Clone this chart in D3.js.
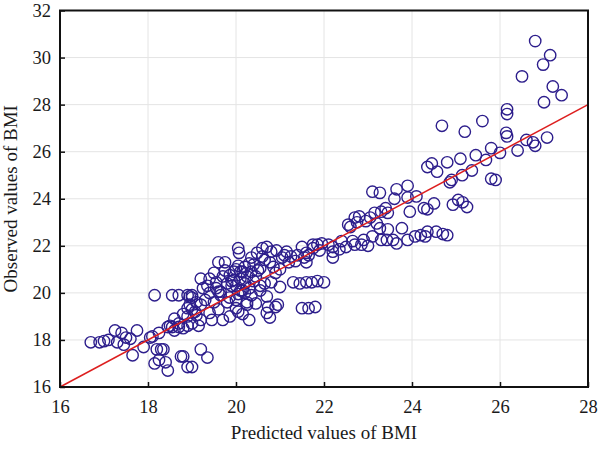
<!DOCTYPE html>
<html lang="en">
<head>
  <meta charset="UTF-8">
  <title>BMI predicted vs observed</title>
  <style>
    body { margin: 0; background: #fff; }
    text { font-family: "Liberation Serif", "DejaVu Serif", serif; fill: #1a1a1a; }
  </style>
  <script src="https://d3js.org/d3.v7.min.js"></script>
</head>
<body>
  <div id="chart"></div>
  <script>
    // predicted / observed BMI pairs
    var predicted = [
      16.7,16.9,17.0,17.1,17.25,17.3,17.4,17.45,17.5,17.6,17.75,17.65,17.9,18.05,18.1,18.15,18.25,18.2,18.3,18.25,
      18.15,18.35,18.4,18.45,18.45,18.55,18.55,18.7,18.7,18.75,18.6,18.9,18.9,19.0,18.9,19.0,18.8,19.0,19.2,19.35,18.8,
      20.05,20.07,19.6,19.75,19.5,19.4,19.2,19.25,19.0,18.95,18.9,19.07,19.2,19.4,19.45,19.6,19.7,19.86,20.05,20.15,
      20.3,20.0,19.85,19.65,19.86,19.95,20.0,20.1,20.25,20.35,20.48,20.6,20.7,20.8,20.92,20.65,20.77,20.55,20.45,20.65,
      20.8,20.55,20.7,20.73,20.9,20.95,20.7,20.77,20.35,20.15,20.25,21.15,21.2,21.35,21.5,21.6,21.75,21.85,21.0,21.05,
      21.3,21.45,21.6,21.72,21.85,22.0,21.0,21.5,21.65,21.8,
      19.9,20.0,20.1,20.2,20.15,19.95,20.3,20.1,19.8,20.2,20.35,19.7,20.05,20.25,19.8,19.5,19.3,19.6,19.4,20.4,
      18.6,18.8,19.0,18.7,19.1,18.5,19.2,18.95,19.15,18.9,
      19.55,19.75,19.9,20.05,20.2,20.4,20.55,20.6,20.85,21.1,19.35,19.65,20.0,20.3,20.5,21.25,20.9,19.1,19.55,20.45,
      22.35,22.65,22.9,23.0,21.4,
      23.1,23.27,23.65,23.9,23.6,23.9,24.1,23.95,24.27,24.5,22.8,22.6,22.75,22.95,23.05,23.15,23.3,23.45,23.4,23.2,
      23.27,23.1,23.3,23.45,23.43,23.57,23.77,23.9,23.65,24.07,24.2,24.3,24.35,24.55,24.7,24.8,22.5,22.7,22.85,22.2,
      22.2,22.1,21.95,21.75,21.65,21.6,21.55,21.9,22.2,22.55,22.7,22.4,
      24.35,24.45,24.57,24.8,24.86,24.9,25.1,25.14,25.36,25.45,25.68,25.8,26.0,26.4,25.8,25.9,24.93,25.05,25.15,25.25,24.35,
      24.68,25.2,25.6,26.16,26.16,26.14,26.16,26.6,26.75,26.8,27.07,27.0,27.4,26.8,27.14,26.98,26.5,27.2
    ];
    var observed = [
      17.9,17.9,17.95,18.0,18.4,17.9,18.3,17.8,18.1,18.05,18.4,17.35,17.7,18.1,18.15,19.9,18.3,17.6,17.6,17.15,
      17.0,17.6,17.05,16.7,18.55,18.55,19.9,19.9,18.55,17.3,18.4,19.0,19.9,19.8,16.85,16.85,18.5,18.7,17.6,17.25,17.3,
      21.9,21.7,21.3,21.3,20.85,20.6,20.6,20.2,19.9,19.85,19.35,19.2,18.85,19.15,18.85,19.3,18.85,19.0,19.2,19.1,
      18.85,19.7,19.8,20.05,20.75,20.55,21.0,20.9,20.7,21.5,21.7,21.9,21.95,21.75,21.8,21.4,21.3,21.05,20.7,20.4,
      20.45,20.1,19.85,19.4,19.4,19.5,19.15,18.95,19.9,20.1,19.6,21.75,21.3,21.35,21.95,21.7,21.9,22.05,21.0,21.5,
      20.45,20.4,20.45,20.45,20.5,20.45,20.25,19.35,19.35,19.4,
      20.5,20.3,20.6,20.4,20.9,20.9,20.2,20.1,20.4,21.1,20.9,20.7,19.95,19.5,19.6,19.6,19.7,20.05,20.0,20.5,
      18.9,19.1,19.3,18.7,19.05,18.6,19.5,19.5,18.6,18.6,
      20.2,20.95,20.3,21.15,20.0,21.2,20.3,21.55,21.1,21.6,20.3,19.9,19.35,21.25,20.95,21.55,20.85,19.6,20.45,19.55,
      21.85,22.2,22.25,22.0,21.6,
      24.3,24.25,24.4,24.55,24.0,24.05,24.1,23.45,23.6,23.8,23.25,22.8,23.0,23.05,23.2,23.4,23.45,23.4,23.6,22.95,
      22.75,22.4,22.25,22.7,22.25,22.25,22.75,22.25,22.1,22.4,22.45,22.4,22.6,22.6,22.5,22.45,21.95,22.05,22.05,21.5,
      21.95,22.05,22.1,22.05,21.6,21.3,21.5,21.8,21.75,22.9,23.2,22.2,
      25.35,25.5,25.15,25.55,24.7,24.8,25.7,25.0,25.2,25.85,25.65,26.15,25.95,26.05,24.85,24.8,23.75,23.95,23.85,23.65,23.55,
      27.1,26.85,27.3,27.8,27.6,26.8,26.65,26.5,26.4,26.25,26.6,28.1,28.4,30.7,30.1,29.7,29.2,28.77
    ];
    var xTicks = [16, 18, 20, 22, 24, 26, 28];
    var yTicks = [16, 18, 20, 22, 24, 26, 28, 30, 32];
    var fitLine = [16, 28];

    var width = 600, height = 449;
    var margin = {top: 10.5, right: 12, bottom: 62, left: 60};
    var innerW = width - margin.left - margin.right;
    var innerH = height - margin.top - margin.bottom;

    var x = d3.scaleLinear().domain([16, 28]).range([0, innerW]);
    var y = d3.scaleLinear().domain([16, 32]).range([innerH, 0]);

    var svg = d3.select('#chart').append('svg')
      .attr('width', width)
      .attr('height', height);
    var g = svg.append('g')
      .attr('transform', 'translate(' + margin.left + ',' + margin.top + ')');

    // grid
    g.append('g').selectAll('line').data(xTicks.slice(1, -1)).enter().append('line')
      .attr('x1', d => x(d)).attr('x2', d => x(d))
      .attr('y1', 0).attr('y2', innerH)
      .attr('stroke', '#e4e4e4').attr('stroke-width', 1);
    g.append('g').selectAll('line').data(yTicks.slice(1, -1)).enter().append('line')
      .attr('x1', 0).attr('x2', innerW)
      .attr('y1', d => y(d)).attr('y2', d => y(d))
      .attr('stroke', '#e4e4e4').attr('stroke-width', 1);

    // points
    var pts = predicted.map((p, i) => ({p: p, o: observed[i]}));
    g.append('g').selectAll('circle').data(pts).enter().append('circle')
      .attr('cx', d => x(d.p))
      .attr('cy', d => y(d.o))
      .attr('r', 5.7)
      .attr('fill', 'none')
      .attr('stroke', '#2d1e8c')
      .attr('stroke-width', 1.4);

    // y = x line
    g.append('line')
      .attr('x1', x(fitLine[0])).attr('y1', y(fitLine[0]))
      .attr('x2', x(fitLine[1])).attr('y2', y(fitLine[1]))
      .attr('stroke', '#dd1f1f').attr('stroke-width', 1.5);

    // axes (ticks point inward)
    var xAxis = d3.axisBottom(x).tickValues(xTicks).tickSize(-5).tickPadding(13).tickFormat(d3.format('d'));
    var yAxis = d3.axisLeft(y).tickValues(yTicks).tickSize(-5).tickPadding(9).tickFormat(d3.format('d'));

    var xa = g.append('g').attr('transform', 'translate(0,' + innerH + ')').call(xAxis);
    var ya = g.append('g').call(yAxis);
    [xa, ya].forEach(function(a) {
      a.select('.domain').remove();
      a.selectAll('line').attr('stroke', '#111').attr('stroke-width', 1.5);
      a.selectAll('text').style('font-size', '18.5px').style('font-family', '"Liberation Serif", serif').attr('fill', '#1a1a1a');
    });

    // frame
    g.append('rect')
      .attr('x', 0).attr('y', 0)
      .attr('width', innerW).attr('height', innerH)
      .attr('fill', 'none').attr('stroke', '#111').attr('stroke-width', 2);

    svg.append('text')
      .attr('x', margin.left + innerW / 2)
      .attr('y', 439)
      .attr('text-anchor', 'middle')
      .style('font-size', '19px')
      .text('Predicted values of BMI');

    svg.append('text')
      .attr('transform', 'translate(17,' + (margin.top + innerH / 2) + ') rotate(-90)')
      .attr('text-anchor', 'middle')
      .style('font-size', '19px')
      .text('Observed values of BMI');
  </script>
</body>
</html>
